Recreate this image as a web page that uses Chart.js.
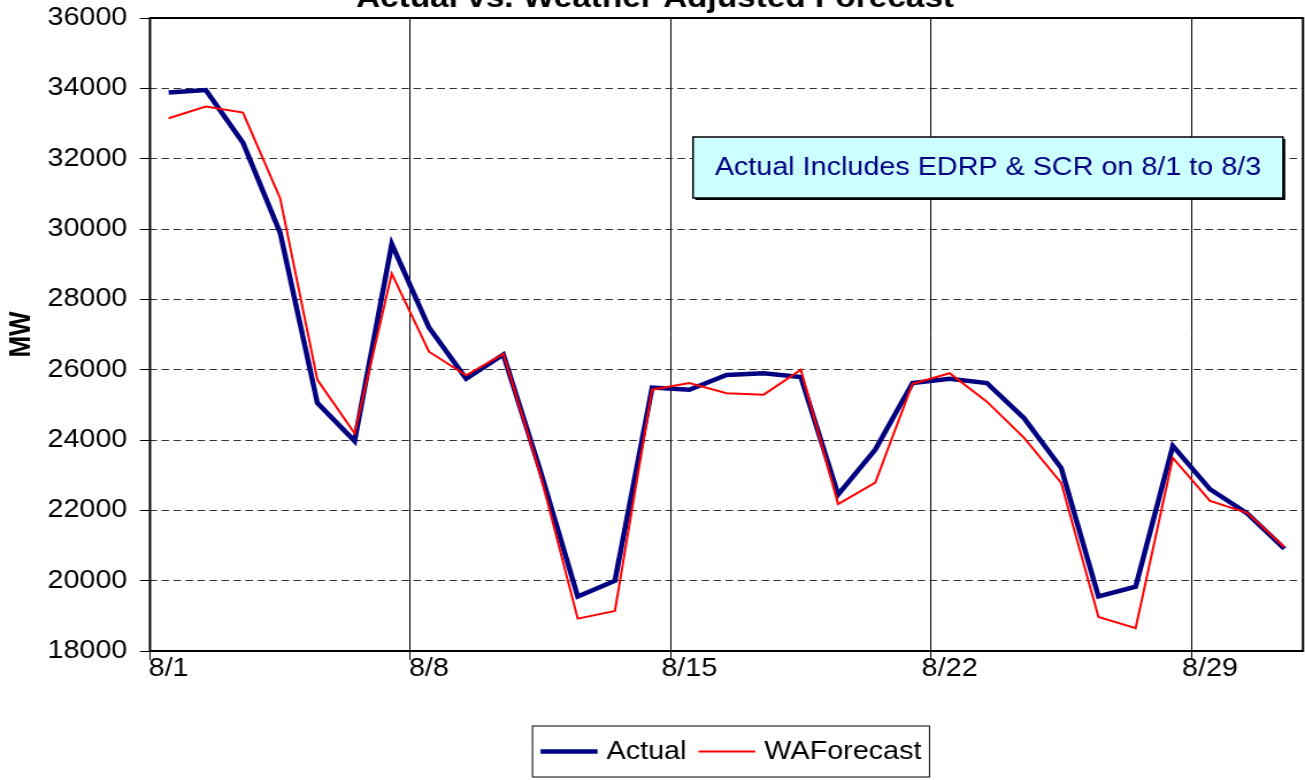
<!DOCTYPE html>
<html>
<head>
<meta charset="utf-8">
<title>Actual vs. Weather Adjusted Forecast</title>
<script src="https://cdn.jsdelivr.net/npm/chart.js@4.4.1/dist/chart.umd.min.js"></script>
<style>
    html, body { margin: 0; padding: 0; background: #fff; overflow: hidden; }
    #wrap { width: 1305px; height: 780px; overflow: hidden; }
    #chart { display: block; transform-origin: 0 0; }
</style>
</head>
<body>
<div id="wrap"><canvas id="chart"></canvas></div>
<script>
// daily peak load, August
const days = ['8/1', '8/2', '8/3', '8/4', '8/5', '8/6', '8/7', '8/8', '8/9', '8/10',
    '8/11', '8/12', '8/13', '8/14', '8/15', '8/16', '8/17', '8/18', '8/19', '8/20',
    '8/21', '8/22', '8/23', '8/24', '8/25', '8/26', '8/27', '8/28', '8/29', '8/30', '8/31'];
const dayTicks = ['8/1', '8/8', '8/15', '8/22', '8/29'];

const actual = [33880, 33950, 32450, 29890, 25050, 23970, 29570, 27200, 25740, 26430,
    23100, 19550, 20000, 25490, 25430, 25850, 25900, 25790, 22450, 23730,
    25620, 25740, 25620, 24620, 23200, 19550, 19830, 23830, 22600, 21910, 20910];
const waForecast = [33150, 33480, 33310, 30870, 25710, 24190, 28730, 26510, 25840, 26450,
    23000, 18920, 19140, 25430, 25620, 25330, 25290, 26000, 22180, 22790,
    25600, 25900, 25090, 24060, 22780, 18970, 18650, 23490, 22270, 21930, 20950];

const yMin = 18000, yMax = 36000, yStep = 2000;
const titleText = 'Actual vs. Weather Adjusted Forecast';
const noteText = 'Actual Includes EDRP & SCR on 8/1 to 8/3';

// the chart is drawn a bit narrower and widened with CSS, so text comes out wide
const PAGE_W = 1305, PAGE_H = 780;
const STRETCH = 1.15;
const canvas = document.getElementById('chart');
canvas.width = Math.round(PAGE_W / STRETCH);
canvas.height = PAGE_H;
canvas.style.transform = `scaleX(${PAGE_W / canvas.width})`;
const sx = v => v * canvas.width / PAGE_W;

const FONT = '"Liberation Sans", Arial, sans-serif';
const isMarked = i => dayTicks.includes(days[i]);

const frame = {
    id: 'frame',
    afterDatasetsDraw(chart) {
        const { ctx, chartArea: a } = chart;
        ctx.save();
        ctx.strokeStyle = '#000';
        ctx.lineWidth = 2;
        ctx.strokeRect(a.left, a.top, a.right - a.left, a.bottom - a.top);
        ctx.restore();
    }
};

const heading = {
    id: 'heading',
    afterDraw(chart) {
        const ctx = chart.ctx;
        ctx.save();
        ctx.font = `bold 29px ${FONT}`;
        ctx.fillStyle = '#000';
        ctx.textAlign = 'center';
        ctx.textBaseline = 'alphabetic';
        ctx.fillText(titleText, sx(655), 7);
        ctx.restore();
    }
};

const note = {
    id: 'note',
    afterDraw(chart) {
        const { ctx, chartArea: a } = chart;
        const right = a.right - sx(20);
        const left = sx(693);
        const top = 137, h = 61, w = right - left;
        ctx.save();
        ctx.fillStyle = '#000';
        ctx.fillRect(left + 2, top + 2, w, h);
        ctx.fillStyle = '#ccffff';
        ctx.fillRect(left, top, w, h);
        ctx.strokeStyle = '#000';
        ctx.lineWidth = 1.5;
        ctx.strokeRect(left, top, w, h);
        ctx.fillStyle = '#000080';
        ctx.font = `25px ${FONT}`;
        ctx.textAlign = 'center';
        ctx.textBaseline = 'middle';
        ctx.fillText(noteText, left + w / 2, top + h / 2 + 1);
        ctx.restore();
    }
};

// boxed legend under the axis
const legendBox = {
    id: 'legendBox',
    afterDraw(chart) {
        const ctx = chart.ctx;
        ctx.save();
        ctx.font = `25px ${FONT}`;
        const items = chart.data.datasets.map(ds => ({ ds, tw: ctx.measureText(ds.label).width }));
        const line = sx(57), gap = sx(9), sep = sx(12), pad = sx(8);
        const width = pad * 2 + items.reduce((s, it) => s + line + gap + it.tw, 0) + sep * (items.length - 1);
        const top = 726, h = 51, cy = top + h / 2;
        let x = sx(731) - width / 2;
        ctx.strokeStyle = '#000';
        ctx.lineWidth = 1;
        ctx.strokeRect(x, top, width, h);
        x += pad;
        items.forEach(it => {
            ctx.strokeStyle = it.ds.borderColor;
            ctx.lineWidth = it.ds.borderWidth;
            ctx.beginPath();
            ctx.moveTo(x, cy);
            ctx.lineTo(x + line, cy);
            ctx.stroke();
            x += line + gap;
            ctx.fillStyle = '#000';
            ctx.textAlign = 'left';
            ctx.textBaseline = 'middle';
            ctx.fillText(it.ds.label, x, cy + 1);
            x += it.tw + sep;
        });
        ctx.restore();
    }
};

new Chart(canvas, {
    type: 'line',
    data: {
        labels: days,
        datasets: [{
            label: 'Actual',
            data: actual,
            borderColor: '#000080',
            borderWidth: 4.5,
            pointRadius: 0,
            tension: 0,
            order: 2
        }, {
            label: 'WAForecast',
            data: waForecast,
            borderColor: '#ff0000',
            borderWidth: 2,
            pointRadius: 0,
            tension: 0,
            order: 1
        }]
    },
    options: {
        responsive: false,
        animation: false,
        devicePixelRatio: 1,
        layout: { padding: { top: 18, right: sx(2), bottom: 69, left: 0 } },
        plugins: {
            legend: { display: false },
            tooltip: { enabled: false }
        },
        scales: {
            x: {
                type: 'category',
                offset: true,
                grid: {
                    offset: true,
                    color: c => isMarked(c.index) ? '#000' : 'transparent',
                    tickColor: c => isMarked(c.index) ? '#000' : 'transparent',
                    lineWidth: 1,
                    tickLength: 9
                },
                border: { display: false },
                ticks: {
                    autoSkip: false,
                    maxRotation: 0,
                    padding: -6,
                    color: '#000',
                    font: { family: FONT, size: 25 },
                    callback: (v, i) => isMarked(i) ? days[i] : ''
                },
                afterFit(scale) { scale.height = 60; }
            },
            y: {
                min: yMin,
                max: yMax,
                ticks: {
                    stepSize: yStep,
                    padding: 11,
                    color: '#000',
                    font: { family: FONT, size: 25 },
                    callback: v => String(v)
                },
                grid: {
                    color: '#333',
                    tickColor: '#000',
                    lineWidth: 1,
                    tickLength: sx(10)
                },
                border: { display: false, dash: [sx(7.5), sx(4.5)] },
                title: {
                    display: true,
                    text: 'MW',
                    color: '#000',
                    font: { family: FONT, size: 26, weight: 'bold', lineHeight: 1.2 },
                    padding: { top: 3.5, bottom: 0 }
                },
                afterFit(scale) {
                    scale.width = sx(150);
                    // plot top sits right under the title; let the end labels overhang
                    scale.paddingTop = 0;
                    scale.paddingBottom = 0;
                }
            }
        }
    },
    plugins: [frame, note, heading, legendBox]
});
</script>
</body>
</html>
